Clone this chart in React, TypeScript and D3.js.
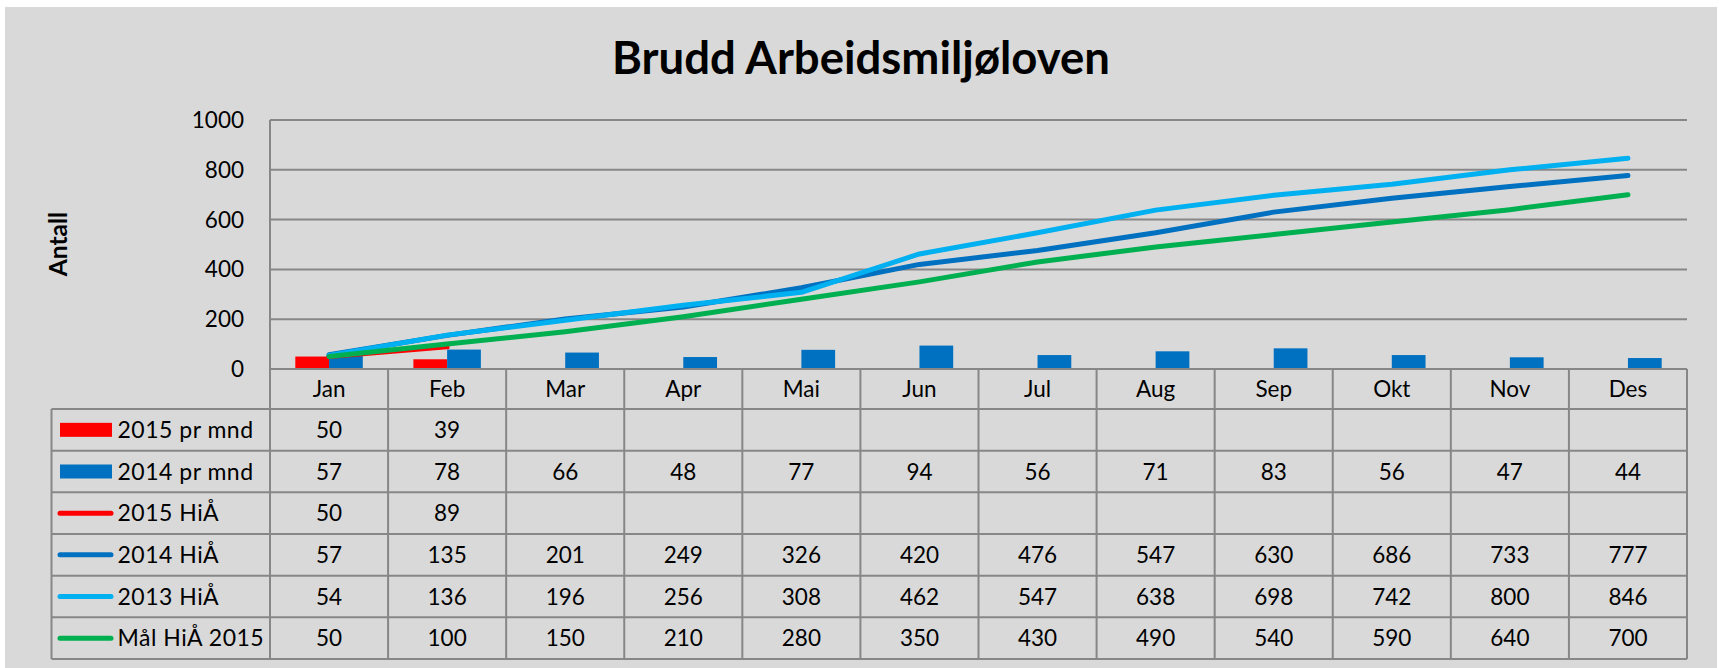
import React from "react";
import * as d3 from "d3";

const months = ["Jan", "Feb", "Mar", "Apr", "Mai", "Jun", "Jul", "Aug", "Sep", "Okt", "Nov", "Des"];
const yTicks = [0, 200, 400, 600, 800, 1000];

const bars2015: (number | null)[] = [50, 39, null, null, null, null, null, null, null, null, null, null];
const bars2014: (number | null)[] = [57, 78, 66, 48, 77, 94, 56, 71, 83, 56, 47, 44];
const hia2015: (number | null)[] = [50, 89, null, null, null, null, null, null, null, null, null, null];
const hia2014: (number | null)[] = [57, 135, 201, 249, 326, 420, 476, 547, 630, 686, 733, 777];
const hia2013: (number | null)[] = [54, 136, 196, 256, 308, 462, 547, 638, 698, 742, 800, 846];
const maal2015: (number | null)[] = [50, 100, 150, 210, 280, 350, 430, 490, 540, 590, 640, 700];

const title = "Brudd Arbeidsmiljøloven";
const yTitle = "Antall";

type Series = { name: string; kind: "bar" | "line"; color: string; values: (number | null)[] };
const series: Series[] = [
  { name: "2015 pr mnd", kind: "bar", color: "#FF0000", values: bars2015 },
  { name: "2014 pr mnd", kind: "bar", color: "#0070C0", values: bars2014 },
  { name: "2015 HiÅ", kind: "line", color: "#FF0000", values: hia2015 },
  { name: "2014 HiÅ", kind: "line", color: "#0070C0", values: hia2014 },
  { name: "2013 HiÅ", kind: "line", color: "#00B0F0", values: hia2013 },
  { name: "Mål HiÅ 2015", kind: "line", color: "#00B050", values: maal2015 },
];

const FONT = "Lato, 'Open Sans', sans-serif";
const GRID = "#878787";

export default function App() {
  const W = 1719;
  const H = 668;
  const plotL = 270;
  const plotR = 1687;
  const plotT = 120;
  const plotB = 369;
  const tableL = 51.5;
  const headerB = 409;
  const tableB = 659;

  const x = d3.scaleBand<string>().domain(months).range([plotL, plotR]).paddingInner(0).paddingOuter(0);
  const y = d3.scaleLinear().domain([0, 1000]).range([plotB, plotT]);
  const bw = x.bandwidth();
  const barSeries = series.filter((s) => s.kind === "bar");
  const lineSeries = series.filter((s) => s.kind === "line");
  const xInner = d3
    .scaleBand<string>()
    .domain(barSeries.map((s) => s.name))
    .range([0, bw])
    .paddingInner(0)
    .paddingOuter(0.75);
  const rowScale = d3
    .scaleBand<string>()
    .domain(series.map((s) => s.name))
    .range([headerB, tableB]);
  const rh = rowScale.bandwidth();

  const cx = (i: number) => (x(months[i]) as number) + bw / 2;

  const lineGen = d3
    .line<number | null>()
    .defined((d) => d !== null)
    .x((_, i) => cx(i))
    .y((d) => y(d as number));

  return (
    <div style={{ position: "absolute", left: 0, top: 0, width: W, height: H, overflow: "hidden" }}>
      <svg width={W} height={H} style={{ display: "block", fontFamily: FONT }}>
        <rect x={0} y={0} width={W} height={H} fill="#ffffff" />
        <rect x={5} y={7} width={1712} height={H - 7} fill="#D9D9D9" />

        <text x={861} y={74} textAnchor="middle" fontSize={45.5} fontWeight={700} fill="#000">
          {title}
        </text>

        <text
          transform={`translate(67,244) rotate(-90)`}
          textAnchor="middle"
          fontSize={24.5}
          fontWeight={700}
          fill="#000"
        >
          {yTitle}
        </text>

        {/* gridlines */}
        {yTicks.map((t) => (
          <line key={"g" + t} x1={plotL} x2={plotR} y1={y(t)} y2={y(t)} stroke={GRID} strokeWidth={2} />
        ))}
        {yTicks.map((t) => (
          <text key={"t" + t} x={244} y={y(t) + 8} textAnchor="end" fontSize={22.5} fill="#000">
            {t}
          </text>
        ))}
        <line x1={plotL} x2={plotL} y1={plotT} y2={tableB} stroke={GRID} strokeWidth={2} />

        {/* bars */}
        {barSeries.map((s) =>
          s.values.map((v, i) =>
            v === null ? null : (
              <rect
                key={s.name + i}
                x={(x(months[i]) as number) + (xInner(s.name) as number)}
                y={y(v)}
                width={xInner.bandwidth()}
                height={plotB - y(v)}
                fill={s.color}
              />
            )
          )
        )}

        {/* lines */}
        {lineSeries.map((s) => (
          <path
            key={s.name}
            d={lineGen(s.values) || ""}
            fill="none"
            stroke={s.color}
            strokeWidth={5}
            strokeLinecap="round"
            strokeLinejoin="round"
          />
        ))}

        {/* table grid */}
        <line x1={plotL} x2={plotR} y1={plotB} y2={plotB} stroke={GRID} strokeWidth={2} />
        {series.map((s) => (
          <line
            key={"r" + s.name}
            x1={tableL}
            x2={plotR}
            y1={rowScale(s.name) as number}
            y2={rowScale(s.name) as number}
            stroke={GRID}
            strokeWidth={2}
          />
        ))}
        <line x1={tableL} x2={plotR} y1={tableB} y2={tableB} stroke={GRID} strokeWidth={2} />
        <line x1={tableL} x2={tableL} y1={headerB} y2={tableB} stroke={GRID} strokeWidth={2} />
        {months.map((m) => (
          <line
            key={"v" + m}
            x1={(x(m) as number) + bw}
            x2={(x(m) as number) + bw}
            y1={plotB}
            y2={tableB}
            stroke={GRID}
            strokeWidth={2}
          />
        ))}

        {/* month labels */}
        {months.map((m, i) => (
          <text key={"m" + m} x={cx(i)} y={(plotB + headerB) / 2 + 8} textAnchor="middle" fontSize={22.5} fill="#000">
            {m}
          </text>
        ))}

        {/* table rows */}
        {series.map((s) => {
          const top = rowScale(s.name) as number;
          const mid = top + rh / 2;
          return (
            <g key={"row" + s.name}>
              {s.kind === "bar" ? (
                <rect x={60} y={mid - 7} width={52} height={14} fill={s.color} />
              ) : (
                <line x1={60} x2={111} y1={mid} y2={mid} stroke={s.color} strokeWidth={5} strokeLinecap="round" />
              )}
              <text x={117.5} y={mid + 8} fontSize={23} letterSpacing={0.5} fill="#000">
                {s.name}
              </text>
              {s.values.map((v, i) =>
                v === null ? null : (
                  <text key={i} x={cx(i)} y={mid + 8} textAnchor="middle" fontSize={22.5} fill="#000">
                    {v}
                  </text>
                )
              )}
            </g>
          );
        })}
      </svg>
    </div>
  );
}
